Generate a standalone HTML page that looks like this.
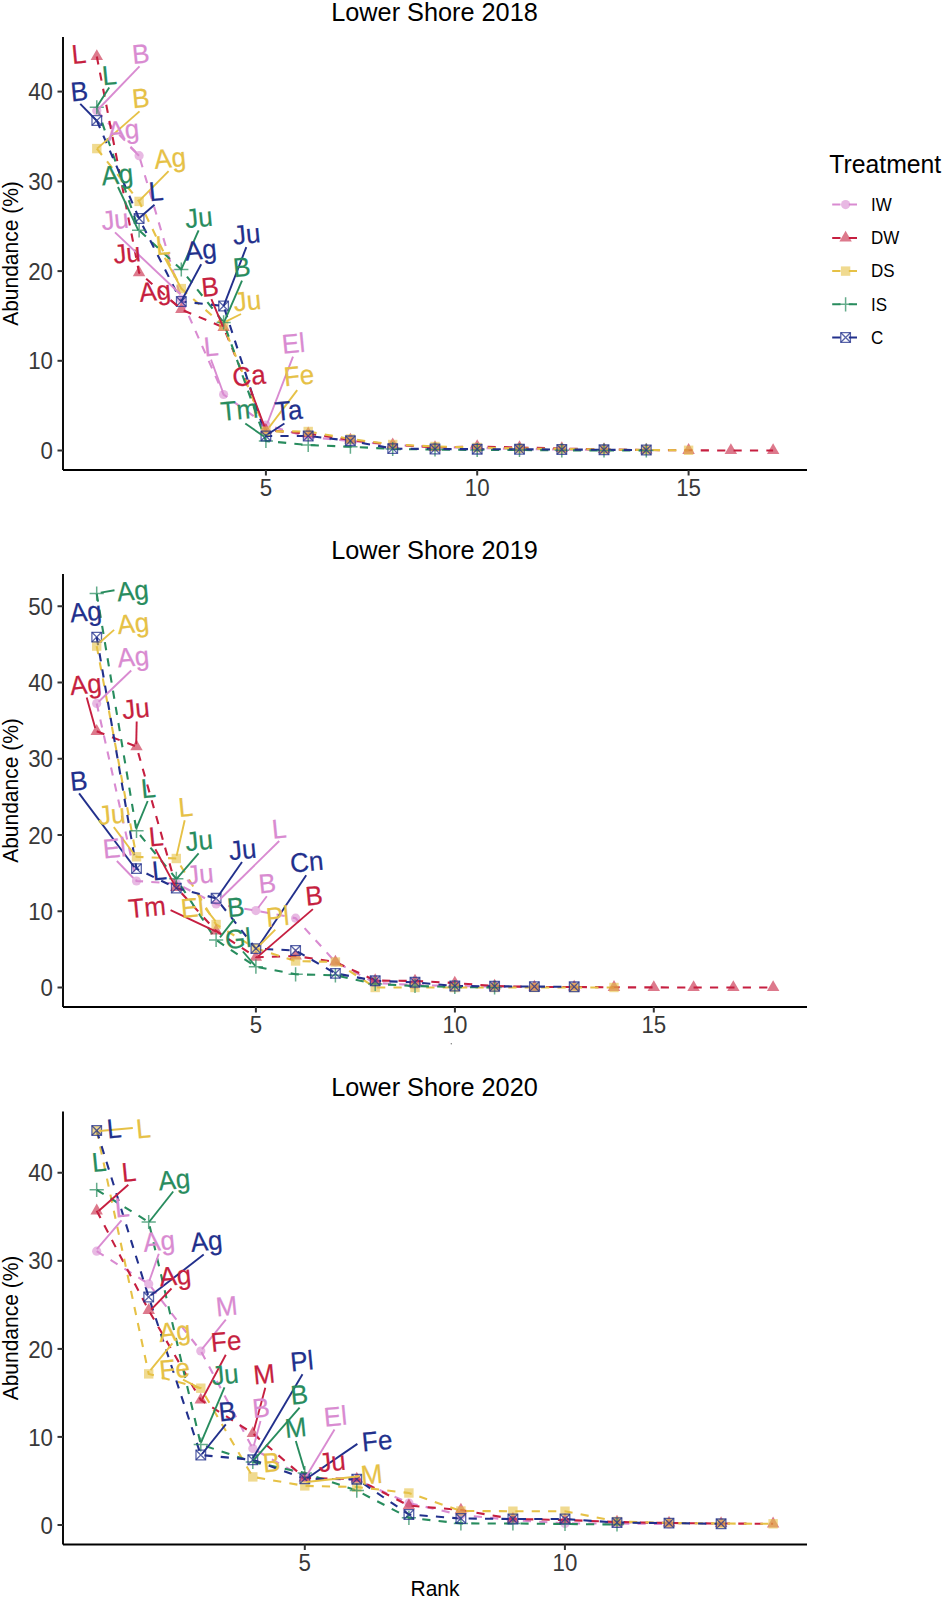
<!DOCTYPE html><html><head><meta charset="utf-8"><style>html,body{margin:0;padding:0;background:#fff;}svg{display:block;font-family:"Liberation Sans",sans-serif;}</style></head><body>
<svg width="944" height="1599" viewBox="0 0 944 1599">
<rect width="944" height="1599" fill="#fff"/>
<text transform="translate(434.50 21.00) scale(1 1.043)" font-size="25.3" fill="#000" text-anchor="middle">Lower Shore 2018</text>
<text transform="translate(17.6 253.5) rotate(-90) scale(1 1.043)" font-size="21" text-anchor="middle" fill="#000">Abundance (%)</text>
<polyline points="96.8,110.8 139.1,155.7 181.3,299.0 223.6,394.5 265.9,425.0 308.2,437.0 350.4,441.0 392.7,445.0 435.0,447.0 477.2,448.0 519.5,449.0 561.8,449.5 604.0,450.0" fill="none" stroke="#D98BD1" stroke-width="2.1" stroke-dasharray="8.2 8.2"/>
<polyline points="96.8,56.5 139.1,272.6 181.3,309.5 223.6,327.4 265.9,430.2 308.2,433.6 350.4,440.0 392.7,444.7 435.0,447.4 477.2,446.5 519.5,447.5 561.8,448.5 604.0,449.5 646.3,450.0 688.6,450.3 730.9,450.5 773.1,450.5" fill="none" stroke="#C61F40" stroke-width="2.1" stroke-dasharray="8.2 8.2"/>
<polyline points="96.8,148.6 139.1,201.4 181.3,288.6 223.6,325.8 265.9,431.3 308.2,431.5 350.4,439.0 392.7,444.5 435.0,446.5 477.2,447.5 519.5,448.5 561.8,449.0 604.0,449.5 646.3,450.0 688.6,450.3" fill="none" stroke="#E6C146" stroke-width="2.1" stroke-dasharray="8.2 8.2"/>
<polyline points="96.8,107.2 139.1,230.3 181.3,269.5 223.6,322.4 265.9,441.0 308.2,445.0 350.4,446.7 392.7,449.0 435.0,449.5 477.2,450.0 519.5,450.0 561.8,450.3 604.0,450.4 646.3,450.5" fill="none" stroke="#288C5E" stroke-width="2.1" stroke-dasharray="8.2 8.2"/>
<polyline points="96.8,120.5 139.1,218.5 181.3,301.5 223.6,306.0 265.9,436.0 308.2,436.0 350.4,440.8 392.7,448.6 435.0,449.0 477.2,449.2 519.5,449.3 561.8,449.5 604.0,449.8 646.3,450.0" fill="none" stroke="#22308C" stroke-width="2.1" stroke-dasharray="8.2 8.2"/>
<circle cx="96.8" cy="110.8" r="4.6" fill="#D98BD1" fill-opacity="0.6"/>
<circle cx="139.1" cy="155.7" r="4.6" fill="#D98BD1" fill-opacity="0.6"/>
<circle cx="181.3" cy="299.0" r="4.6" fill="#D98BD1" fill-opacity="0.6"/>
<circle cx="223.6" cy="394.5" r="4.6" fill="#D98BD1" fill-opacity="0.6"/>
<circle cx="265.9" cy="425.0" r="4.6" fill="#D98BD1" fill-opacity="0.6"/>
<circle cx="308.2" cy="437.0" r="4.6" fill="#D98BD1" fill-opacity="0.6"/>
<circle cx="350.4" cy="441.0" r="4.6" fill="#D98BD1" fill-opacity="0.6"/>
<circle cx="392.7" cy="445.0" r="4.6" fill="#D98BD1" fill-opacity="0.6"/>
<circle cx="435.0" cy="447.0" r="4.6" fill="#D98BD1" fill-opacity="0.6"/>
<circle cx="477.2" cy="448.0" r="4.6" fill="#D98BD1" fill-opacity="0.6"/>
<circle cx="519.5" cy="449.0" r="4.6" fill="#D98BD1" fill-opacity="0.6"/>
<circle cx="561.8" cy="449.5" r="4.6" fill="#D98BD1" fill-opacity="0.6"/>
<circle cx="604.0" cy="450.0" r="4.6" fill="#D98BD1" fill-opacity="0.6"/>
<path d="M96.8 49.3L103.0 60.1L90.6 60.1Z" fill="#C61F40" fill-opacity="0.6"/>
<path d="M139.1 265.4L145.3 276.2L132.8 276.2Z" fill="#C61F40" fill-opacity="0.6"/>
<path d="M181.3 302.3L187.6 313.1L175.1 313.1Z" fill="#C61F40" fill-opacity="0.6"/>
<path d="M223.6 320.2L229.8 331.0L217.4 331.0Z" fill="#C61F40" fill-opacity="0.6"/>
<path d="M265.9 423.0L272.1 433.8L259.6 433.8Z" fill="#C61F40" fill-opacity="0.6"/>
<path d="M308.2 426.4L314.4 437.2L301.9 437.2Z" fill="#C61F40" fill-opacity="0.6"/>
<path d="M350.4 432.8L356.7 443.6L344.2 443.6Z" fill="#C61F40" fill-opacity="0.6"/>
<path d="M392.7 437.5L398.9 448.3L386.5 448.3Z" fill="#C61F40" fill-opacity="0.6"/>
<path d="M435.0 440.2L441.2 451.0L428.7 451.0Z" fill="#C61F40" fill-opacity="0.6"/>
<path d="M477.2 439.3L483.5 450.1L471.0 450.1Z" fill="#C61F40" fill-opacity="0.6"/>
<path d="M519.5 440.3L525.7 451.1L513.3 451.1Z" fill="#C61F40" fill-opacity="0.6"/>
<path d="M561.8 441.3L568.0 452.1L555.5 452.1Z" fill="#C61F40" fill-opacity="0.6"/>
<path d="M604.0 442.3L610.3 453.1L597.8 453.1Z" fill="#C61F40" fill-opacity="0.6"/>
<path d="M646.3 442.8L652.5 453.6L640.1 453.6Z" fill="#C61F40" fill-opacity="0.6"/>
<path d="M688.6 443.1L694.8 453.9L682.3 453.9Z" fill="#C61F40" fill-opacity="0.6"/>
<path d="M730.9 443.3L737.1 454.1L724.6 454.1Z" fill="#C61F40" fill-opacity="0.6"/>
<path d="M773.1 443.3L779.4 454.1L766.9 454.1Z" fill="#C61F40" fill-opacity="0.6"/>
<rect x="92.1" y="143.9" width="9.4" height="9.4" fill="#E6C146" fill-opacity="0.6"/>
<rect x="134.4" y="196.7" width="9.4" height="9.4" fill="#E6C146" fill-opacity="0.6"/>
<rect x="176.6" y="283.9" width="9.4" height="9.4" fill="#E6C146" fill-opacity="0.6"/>
<rect x="218.9" y="321.1" width="9.4" height="9.4" fill="#E6C146" fill-opacity="0.6"/>
<rect x="261.2" y="426.6" width="9.4" height="9.4" fill="#E6C146" fill-opacity="0.6"/>
<rect x="303.5" y="426.8" width="9.4" height="9.4" fill="#E6C146" fill-opacity="0.6"/>
<rect x="345.7" y="434.3" width="9.4" height="9.4" fill="#E6C146" fill-opacity="0.6"/>
<rect x="388.0" y="439.8" width="9.4" height="9.4" fill="#E6C146" fill-opacity="0.6"/>
<rect x="430.3" y="441.8" width="9.4" height="9.4" fill="#E6C146" fill-opacity="0.6"/>
<rect x="472.5" y="442.8" width="9.4" height="9.4" fill="#E6C146" fill-opacity="0.6"/>
<rect x="514.8" y="443.8" width="9.4" height="9.4" fill="#E6C146" fill-opacity="0.6"/>
<rect x="557.1" y="444.3" width="9.4" height="9.4" fill="#E6C146" fill-opacity="0.6"/>
<rect x="599.3" y="444.8" width="9.4" height="9.4" fill="#E6C146" fill-opacity="0.6"/>
<rect x="641.6" y="445.3" width="9.4" height="9.4" fill="#E6C146" fill-opacity="0.6"/>
<rect x="683.9" y="445.6" width="9.4" height="9.4" fill="#E6C146" fill-opacity="0.6"/>
<path d="M89.7 107.2H103.9M96.8 100.2V114.3" stroke="#288C5E" stroke-opacity="0.72" stroke-width="1.5" fill="none"/>
<path d="M132.0 230.3H146.2M139.1 223.2V237.4" stroke="#288C5E" stroke-opacity="0.72" stroke-width="1.5" fill="none"/>
<path d="M174.2 269.5H188.4M181.3 262.4V276.6" stroke="#288C5E" stroke-opacity="0.72" stroke-width="1.5" fill="none"/>
<path d="M216.5 322.4H230.7M223.6 315.3V329.5" stroke="#288C5E" stroke-opacity="0.72" stroke-width="1.5" fill="none"/>
<path d="M258.8 441.0H273.0M265.9 433.9V448.1" stroke="#288C5E" stroke-opacity="0.72" stroke-width="1.5" fill="none"/>
<path d="M301.1 445.0H315.3M308.2 437.9V452.1" stroke="#288C5E" stroke-opacity="0.72" stroke-width="1.5" fill="none"/>
<path d="M343.3 446.7H357.5M350.4 439.6V453.8" stroke="#288C5E" stroke-opacity="0.72" stroke-width="1.5" fill="none"/>
<path d="M385.6 449.0H399.8M392.7 441.9V456.1" stroke="#288C5E" stroke-opacity="0.72" stroke-width="1.5" fill="none"/>
<path d="M427.9 449.5H442.1M435.0 442.4V456.6" stroke="#288C5E" stroke-opacity="0.72" stroke-width="1.5" fill="none"/>
<path d="M470.1 450.0H484.3M477.2 442.9V457.1" stroke="#288C5E" stroke-opacity="0.72" stroke-width="1.5" fill="none"/>
<path d="M512.4 450.0H526.6M519.5 442.9V457.1" stroke="#288C5E" stroke-opacity="0.72" stroke-width="1.5" fill="none"/>
<path d="M554.7 450.3H568.9M561.8 443.2V457.4" stroke="#288C5E" stroke-opacity="0.72" stroke-width="1.5" fill="none"/>
<path d="M596.9 450.4H611.1M604.0 443.3V457.5" stroke="#288C5E" stroke-opacity="0.72" stroke-width="1.5" fill="none"/>
<path d="M639.2 450.5H653.4M646.3 443.4V457.6" stroke="#288C5E" stroke-opacity="0.72" stroke-width="1.5" fill="none"/>
<g stroke="#22308C" stroke-opacity="0.75" stroke-width="1.3" fill="none"><path d="M92.0 115.7h9.6v9.6h-9.6Z"/><path d="M92.0 115.7L101.6 125.3M101.6 115.7L92.0 125.3"/></g>
<g stroke="#22308C" stroke-opacity="0.75" stroke-width="1.3" fill="none"><path d="M134.3 213.7h9.6v9.6h-9.6Z"/><path d="M134.3 213.7L143.9 223.3M143.9 213.7L134.3 223.3"/></g>
<g stroke="#22308C" stroke-opacity="0.75" stroke-width="1.3" fill="none"><path d="M176.5 296.7h9.6v9.6h-9.6Z"/><path d="M176.5 296.7L186.1 306.3M186.1 296.7L176.5 306.3"/></g>
<g stroke="#22308C" stroke-opacity="0.75" stroke-width="1.3" fill="none"><path d="M218.8 301.2h9.6v9.6h-9.6Z"/><path d="M218.8 301.2L228.4 310.8M228.4 301.2L218.8 310.8"/></g>
<g stroke="#22308C" stroke-opacity="0.75" stroke-width="1.3" fill="none"><path d="M261.1 431.2h9.6v9.6h-9.6Z"/><path d="M261.1 431.2L270.7 440.8M270.7 431.2L261.1 440.8"/></g>
<g stroke="#22308C" stroke-opacity="0.75" stroke-width="1.3" fill="none"><path d="M303.4 431.2h9.6v9.6h-9.6Z"/><path d="M303.4 431.2L313.0 440.8M313.0 431.2L303.4 440.8"/></g>
<g stroke="#22308C" stroke-opacity="0.75" stroke-width="1.3" fill="none"><path d="M345.6 436.0h9.6v9.6h-9.6Z"/><path d="M345.6 436.0L355.2 445.6M355.2 436.0L345.6 445.6"/></g>
<g stroke="#22308C" stroke-opacity="0.75" stroke-width="1.3" fill="none"><path d="M387.9 443.8h9.6v9.6h-9.6Z"/><path d="M387.9 443.8L397.5 453.4M397.5 443.8L387.9 453.4"/></g>
<g stroke="#22308C" stroke-opacity="0.75" stroke-width="1.3" fill="none"><path d="M430.2 444.2h9.6v9.6h-9.6Z"/><path d="M430.2 444.2L439.8 453.8M439.8 444.2L430.2 453.8"/></g>
<g stroke="#22308C" stroke-opacity="0.75" stroke-width="1.3" fill="none"><path d="M472.4 444.4h9.6v9.6h-9.6Z"/><path d="M472.4 444.4L482.0 454.0M482.0 444.4L472.4 454.0"/></g>
<g stroke="#22308C" stroke-opacity="0.75" stroke-width="1.3" fill="none"><path d="M514.7 444.5h9.6v9.6h-9.6Z"/><path d="M514.7 444.5L524.3 454.1M524.3 444.5L514.7 454.1"/></g>
<g stroke="#22308C" stroke-opacity="0.75" stroke-width="1.3" fill="none"><path d="M557.0 444.7h9.6v9.6h-9.6Z"/><path d="M557.0 444.7L566.6 454.3M566.6 444.7L557.0 454.3"/></g>
<g stroke="#22308C" stroke-opacity="0.75" stroke-width="1.3" fill="none"><path d="M599.2 445.0h9.6v9.6h-9.6Z"/><path d="M599.2 445.0L608.8 454.6M608.8 445.0L599.2 454.6"/></g>
<g stroke="#22308C" stroke-opacity="0.75" stroke-width="1.3" fill="none"><path d="M641.5 445.2h9.6v9.6h-9.6Z"/><path d="M641.5 445.2L651.1 454.8M651.1 445.2L641.5 454.8"/></g>
<line x1="109.25" y1="87.6" x2="96.75" y2="107" stroke="#288C5E" stroke-width="1.9"/>
<line x1="139.5" y1="66.4" x2="98.5" y2="109" stroke="#D98BD1" stroke-width="1.9"/>
<line x1="80.25" y1="103.9" x2="96.5" y2="120.5" stroke="#22308C" stroke-width="1.9"/>
<line x1="139.5" y1="111.4" x2="97.1" y2="148.6" stroke="#E6C146" stroke-width="1.9"/>
<line x1="130.4" y1="147.4" x2="139" y2="155.7" stroke="#D98BD1" stroke-width="1.9"/>
<line x1="168.6" y1="171.2" x2="138.7" y2="201.4" stroke="#E6C146" stroke-width="1.9"/>
<line x1="118" y1="187" x2="138.3" y2="230.3" stroke="#288C5E" stroke-width="1.9"/>
<line x1="154.5" y1="204.8" x2="138.7" y2="218.5" stroke="#22308C" stroke-width="1.9"/>
<line x1="115" y1="232.4" x2="180.5" y2="294.3" stroke="#D98BD1" stroke-width="1.9"/>
<line x1="170.5" y1="300" x2="177.6" y2="305.8" stroke="#C61F40" stroke-width="1.9"/>
<line x1="164.7" y1="257.8" x2="181.3" y2="288.5" stroke="#E6C146" stroke-width="1.9"/>
<line x1="198.6" y1="230.3" x2="181.3" y2="269.4" stroke="#288C5E" stroke-width="1.9"/>
<line x1="201.2" y1="264.2" x2="181.3" y2="301.2" stroke="#22308C" stroke-width="1.9"/>
<line x1="211.4" y1="299.1" x2="222.9" y2="326.7" stroke="#C61F40" stroke-width="1.9"/>
<line x1="246.3" y1="247.2" x2="223.6" y2="306.1" stroke="#22308C" stroke-width="1.9"/>
<line x1="242" y1="280.7" x2="224" y2="322.4" stroke="#288C5E" stroke-width="1.9"/>
<line x1="241" y1="314" x2="226.2" y2="321.4" stroke="#E6C146" stroke-width="1.9"/>
<line x1="211" y1="359.6" x2="222.5" y2="391" stroke="#D98BD1" stroke-width="1.9"/>
<line x1="250.1" y1="388.2" x2="264.4" y2="426.3" stroke="#C61F40" stroke-width="1.9"/>
<line x1="293" y1="356.7" x2="267.3" y2="423.5" stroke="#D98BD1" stroke-width="1.9"/>
<line x1="297.2" y1="390.1" x2="269.2" y2="427.3" stroke="#E6C146" stroke-width="1.9"/>
<line x1="284.4" y1="423.5" x2="268.2" y2="434" stroke="#22308C" stroke-width="1.9"/>
<line x1="245.3" y1="423.5" x2="264.4" y2="436.8" stroke="#288C5E" stroke-width="1.9"/>
<text transform="translate(79.55 53.89) rotate(-5.5) scale(1 1.04)" x="-7.86" y="8.94" font-size="26" fill="#C61F40" stroke="#C61F40" stroke-width="0.2">L</text>
<text transform="translate(109.90 75.19) rotate(-5.5) scale(1 1.04)" x="-7.86" y="8.94" font-size="26" fill="#288C5E" stroke="#288C5E" stroke-width="0.2">L</text>
<text transform="translate(141.08 53.78) rotate(-5.5) scale(1 1.04)" x="-9.05" y="8.94" font-size="26" fill="#D98BD1" stroke="#D98BD1" stroke-width="0.2">B</text>
<text transform="translate(79.48 91.28) rotate(-5.5) scale(1 1.04)" x="-9.05" y="8.94" font-size="26" fill="#22308C" stroke="#22308C" stroke-width="0.2">B</text>
<text transform="translate(141.08 98.18) rotate(-5.5) scale(1 1.04)" x="-9.05" y="8.94" font-size="26" fill="#E6C146" stroke="#E6C146" stroke-width="0.2">B</text>
<text transform="translate(122.48 130.00) rotate(-5.5) scale(1 1.04)" x="-15.09" y="8.94" font-size="26" fill="#D98BD1" stroke="#D98BD1" stroke-width="0.2">Ag</text>
<text transform="translate(169.08 158.20) rotate(-5.5) scale(1 1.04)" x="-15.09" y="8.94" font-size="26" fill="#E6C146" stroke="#E6C146" stroke-width="0.2">Ag</text>
<text transform="translate(116.38 174.80) rotate(-5.5) scale(1 1.04)" x="-15.09" y="8.94" font-size="26" fill="#288C5E" stroke="#288C5E" stroke-width="0.2">Ag</text>
<text transform="translate(156.60 191.29) rotate(-5.5) scale(1 1.04)" x="-7.86" y="8.94" font-size="26" fill="#22308C" stroke="#22308C" stroke-width="0.2">L</text>
<text transform="translate(114.26 219.75) rotate(-5.5) scale(1 1.04)" x="-13.07" y="8.94" font-size="26" fill="#D98BD1" stroke="#D98BD1" stroke-width="0.2">Ju</text>
<text transform="translate(126.26 253.35) rotate(-5.5) scale(1 1.04)" x="-13.07" y="8.94" font-size="26" fill="#C61F40" stroke="#C61F40" stroke-width="0.2">Ju</text>
<text transform="translate(154.18 291.20) rotate(-5.5) scale(1 1.04)" x="-15.09" y="8.94" font-size="26" fill="#C61F40" stroke="#C61F40" stroke-width="0.2">Ag</text>
<text transform="translate(163.60 245.29) rotate(-5.5) scale(1 1.04)" x="-7.86" y="8.94" font-size="26" fill="#E6C146" stroke="#E6C146" stroke-width="0.2">L</text>
<text transform="translate(198.06 217.75) rotate(-5.5) scale(1 1.04)" x="-13.07" y="8.94" font-size="26" fill="#288C5E" stroke="#288C5E" stroke-width="0.2">Ju</text>
<text transform="translate(199.78 250.00) rotate(-5.5) scale(1 1.04)" x="-15.09" y="8.94" font-size="26" fill="#22308C" stroke="#22308C" stroke-width="0.2">Ag</text>
<text transform="translate(210.38 286.78) rotate(-5.5) scale(1 1.04)" x="-9.05" y="8.94" font-size="26" fill="#C61F40" stroke="#C61F40" stroke-width="0.2">B</text>
<text transform="translate(245.86 234.35) rotate(-5.5) scale(1 1.04)" x="-13.07" y="8.94" font-size="26" fill="#22308C" stroke="#22308C" stroke-width="0.2">Ju</text>
<text transform="translate(242.18 267.18) rotate(-5.5) scale(1 1.04)" x="-9.05" y="8.94" font-size="26" fill="#288C5E" stroke="#288C5E" stroke-width="0.2">B</text>
<text transform="translate(246.66 300.95) rotate(-5.5) scale(1 1.04)" x="-13.07" y="8.94" font-size="26" fill="#E6C146" stroke="#E6C146" stroke-width="0.2">Ju</text>
<text transform="translate(211.60 346.49) rotate(-5.5) scale(1 1.04)" x="-7.86" y="8.94" font-size="26" fill="#D98BD1" stroke="#D98BD1" stroke-width="0.2">L</text>
<text transform="translate(249.56 375.73) rotate(-5.5) scale(1 1.04)" x="-17.28" y="8.94" font-size="26" fill="#C61F40" stroke="#C61F40" stroke-width="0.2">Ca</text>
<text transform="translate(293.67 343.42) rotate(-5.5) scale(1 1.04)" x="-11.76" y="8.94" font-size="26" fill="#D98BD1" stroke="#D98BD1" stroke-width="0.2">El</text>
<text transform="translate(299.46 375.44) rotate(-5.5) scale(1 1.04)" x="-15.66" y="8.94" font-size="26" fill="#E6C146" stroke="#E6C146" stroke-width="0.2">Fe</text>
<text transform="translate(290.30 410.30) rotate(-5.5) scale(1 1.04)" x="-15.46" y="8.94" font-size="26" fill="#22308C" stroke="#22308C" stroke-width="0.2">Ta</text>
<text transform="translate(238.73 410.04) rotate(-5.5) scale(1 1.04)" x="-18.21" y="8.94" font-size="26" fill="#288C5E" stroke="#288C5E" stroke-width="0.2">Tm</text>
<line x1="63" y1="37" x2="63" y2="470" stroke="#000" stroke-width="1.9"/>
<line x1="63" y1="470" x2="807" y2="470" stroke="#000" stroke-width="1.9"/>
<line x1="57.5" y1="450.5" x2="63" y2="450.5" stroke="#333" stroke-width="2"/>
<text transform="translate(53.00 459.10) scale(1 1.09)" font-size="22.3" fill="#383838" text-anchor="end">0</text>
<line x1="57.5" y1="360.8" x2="63" y2="360.8" stroke="#333" stroke-width="2"/>
<text transform="translate(53.00 369.40) scale(1 1.09)" font-size="22.3" fill="#383838" text-anchor="end">10</text>
<line x1="57.5" y1="271.1" x2="63" y2="271.1" stroke="#333" stroke-width="2"/>
<text transform="translate(53.00 279.70) scale(1 1.09)" font-size="22.3" fill="#383838" text-anchor="end">20</text>
<line x1="57.5" y1="181.4" x2="63" y2="181.4" stroke="#333" stroke-width="2"/>
<text transform="translate(53.00 190.00) scale(1 1.09)" font-size="22.3" fill="#383838" text-anchor="end">30</text>
<line x1="57.5" y1="91.6" x2="63" y2="91.6" stroke="#333" stroke-width="2"/>
<text transform="translate(53.00 100.20) scale(1 1.09)" font-size="22.3" fill="#383838" text-anchor="end">40</text>
<line x1="265.9" y1="470" x2="265.9" y2="475.5" stroke="#333" stroke-width="2"/>
<text transform="translate(265.90 496.30) scale(1 1.09)" font-size="22.3" fill="#383838" text-anchor="middle">5</text>
<line x1="477.2" y1="470" x2="477.2" y2="475.5" stroke="#333" stroke-width="2"/>
<text transform="translate(477.20 496.30) scale(1 1.09)" font-size="22.3" fill="#383838" text-anchor="middle">10</text>
<line x1="688.6" y1="470" x2="688.6" y2="475.5" stroke="#333" stroke-width="2"/>
<text transform="translate(688.60 496.30) scale(1 1.09)" font-size="22.3" fill="#383838" text-anchor="middle">15</text>
<text transform="translate(434.50 558.50) scale(1 1.043)" font-size="25.3" fill="#000" text-anchor="middle">Lower Shore 2019</text>
<text transform="translate(17.6 790.5) rotate(-90) scale(1 1.043)" font-size="21" text-anchor="middle" fill="#000">Abundance (%)</text>
<polyline points="96.7,703.4 136.5,881.0 176.3,883.5 216.1,904.0 255.9,910.6 295.6,918.2 335.4,962.0 375.2,983.0 415.0,985.0 454.8,986.0 494.6,986.5 534.4,987.0" fill="none" stroke="#D98BD1" stroke-width="2.1" stroke-dasharray="8.2 8.2"/>
<polyline points="96.7,731.3 136.5,746.6 176.3,887.3 216.1,931.0 255.9,957.2 295.6,956.0 335.4,962.0 375.2,980.5 415.0,981.0 454.8,983.0 494.6,986.0 534.4,987.0 574.2,987.0 614.0,987.3 653.8,987.4 693.6,987.5 733.3,987.5 773.1,987.5" fill="none" stroke="#C61F40" stroke-width="2.1" stroke-dasharray="8.2 8.2"/>
<polyline points="96.7,646.1 136.5,856.8 176.3,858.5 216.1,924.5 255.9,948.5 295.6,961.0 335.4,962.0 375.2,987.5 415.0,987.5 454.8,987.5 494.6,987.5 534.4,987.5 574.2,987.5 614.0,987.5" fill="none" stroke="#E6C146" stroke-width="2.1" stroke-dasharray="8.2 8.2"/>
<polyline points="96.7,593.6 136.5,830.8 176.3,878.8 216.1,940.0 255.9,966.7 295.6,974.3 335.4,975.3 375.2,984.0 415.0,986.0 454.8,987.0 494.6,987.5" fill="none" stroke="#288C5E" stroke-width="2.1" stroke-dasharray="8.2 8.2"/>
<polyline points="96.7,637.1 136.5,868.6 176.3,888.1 216.1,898.3 255.9,948.6 295.6,950.5 335.4,973.4 375.2,980.8 415.0,982.3 454.8,986.0 494.6,986.3 534.4,986.6 574.2,986.8" fill="none" stroke="#22308C" stroke-width="2.1" stroke-dasharray="8.2 8.2"/>
<circle cx="96.7" cy="703.4" r="4.6" fill="#D98BD1" fill-opacity="0.6"/>
<circle cx="136.5" cy="881.0" r="4.6" fill="#D98BD1" fill-opacity="0.6"/>
<circle cx="176.3" cy="883.5" r="4.6" fill="#D98BD1" fill-opacity="0.6"/>
<circle cx="216.1" cy="904.0" r="4.6" fill="#D98BD1" fill-opacity="0.6"/>
<circle cx="255.9" cy="910.6" r="4.6" fill="#D98BD1" fill-opacity="0.6"/>
<circle cx="295.6" cy="918.2" r="4.6" fill="#D98BD1" fill-opacity="0.6"/>
<circle cx="335.4" cy="962.0" r="4.6" fill="#D98BD1" fill-opacity="0.6"/>
<circle cx="375.2" cy="983.0" r="4.6" fill="#D98BD1" fill-opacity="0.6"/>
<circle cx="415.0" cy="985.0" r="4.6" fill="#D98BD1" fill-opacity="0.6"/>
<circle cx="454.8" cy="986.0" r="4.6" fill="#D98BD1" fill-opacity="0.6"/>
<circle cx="494.6" cy="986.5" r="4.6" fill="#D98BD1" fill-opacity="0.6"/>
<circle cx="534.4" cy="987.0" r="4.6" fill="#D98BD1" fill-opacity="0.6"/>
<path d="M96.7 724.1L102.9 734.9L90.5 734.9Z" fill="#C61F40" fill-opacity="0.6"/>
<path d="M136.5 739.4L142.7 750.2L130.3 750.2Z" fill="#C61F40" fill-opacity="0.6"/>
<path d="M176.3 880.1L182.5 890.9L170.0 890.9Z" fill="#C61F40" fill-opacity="0.6"/>
<path d="M216.1 923.8L222.3 934.6L209.8 934.6Z" fill="#C61F40" fill-opacity="0.6"/>
<path d="M255.9 950.0L262.1 960.8L249.6 960.8Z" fill="#C61F40" fill-opacity="0.6"/>
<path d="M295.6 948.8L301.9 959.6L289.4 959.6Z" fill="#C61F40" fill-opacity="0.6"/>
<path d="M335.4 954.8L341.7 965.6L329.2 965.6Z" fill="#C61F40" fill-opacity="0.6"/>
<path d="M375.2 973.3L381.5 984.1L369.0 984.1Z" fill="#C61F40" fill-opacity="0.6"/>
<path d="M415.0 973.8L421.3 984.6L408.8 984.6Z" fill="#C61F40" fill-opacity="0.6"/>
<path d="M454.8 975.8L461.0 986.6L448.6 986.6Z" fill="#C61F40" fill-opacity="0.6"/>
<path d="M494.6 978.8L500.8 989.6L488.4 989.6Z" fill="#C61F40" fill-opacity="0.6"/>
<path d="M534.4 979.8L540.6 990.6L528.2 990.6Z" fill="#C61F40" fill-opacity="0.6"/>
<path d="M574.2 979.8L580.4 990.6L567.9 990.6Z" fill="#C61F40" fill-opacity="0.6"/>
<path d="M614.0 980.1L620.2 990.9L607.7 990.9Z" fill="#C61F40" fill-opacity="0.6"/>
<path d="M653.8 980.2L660.0 991.0L647.5 991.0Z" fill="#C61F40" fill-opacity="0.6"/>
<path d="M693.6 980.3L699.8 991.1L687.3 991.1Z" fill="#C61F40" fill-opacity="0.6"/>
<path d="M733.3 980.3L739.6 991.1L727.1 991.1Z" fill="#C61F40" fill-opacity="0.6"/>
<path d="M773.1 980.3L779.4 991.1L766.9 991.1Z" fill="#C61F40" fill-opacity="0.6"/>
<rect x="92.0" y="641.4" width="9.4" height="9.4" fill="#E6C146" fill-opacity="0.6"/>
<rect x="131.8" y="852.1" width="9.4" height="9.4" fill="#E6C146" fill-opacity="0.6"/>
<rect x="171.6" y="853.8" width="9.4" height="9.4" fill="#E6C146" fill-opacity="0.6"/>
<rect x="211.4" y="919.8" width="9.4" height="9.4" fill="#E6C146" fill-opacity="0.6"/>
<rect x="251.2" y="943.8" width="9.4" height="9.4" fill="#E6C146" fill-opacity="0.6"/>
<rect x="290.9" y="956.3" width="9.4" height="9.4" fill="#E6C146" fill-opacity="0.6"/>
<rect x="330.7" y="957.3" width="9.4" height="9.4" fill="#E6C146" fill-opacity="0.6"/>
<rect x="370.5" y="982.8" width="9.4" height="9.4" fill="#E6C146" fill-opacity="0.6"/>
<rect x="410.3" y="982.8" width="9.4" height="9.4" fill="#E6C146" fill-opacity="0.6"/>
<rect x="450.1" y="982.8" width="9.4" height="9.4" fill="#E6C146" fill-opacity="0.6"/>
<rect x="489.9" y="982.8" width="9.4" height="9.4" fill="#E6C146" fill-opacity="0.6"/>
<rect x="529.7" y="982.8" width="9.4" height="9.4" fill="#E6C146" fill-opacity="0.6"/>
<rect x="569.5" y="982.8" width="9.4" height="9.4" fill="#E6C146" fill-opacity="0.6"/>
<rect x="609.3" y="982.8" width="9.4" height="9.4" fill="#E6C146" fill-opacity="0.6"/>
<path d="M89.6 593.6H103.8M96.7 586.5V600.7" stroke="#288C5E" stroke-opacity="0.72" stroke-width="1.5" fill="none"/>
<path d="M129.4 830.8H143.6M136.5 823.7V837.9" stroke="#288C5E" stroke-opacity="0.72" stroke-width="1.5" fill="none"/>
<path d="M169.2 878.8H183.4M176.3 871.7V885.9" stroke="#288C5E" stroke-opacity="0.72" stroke-width="1.5" fill="none"/>
<path d="M209.0 940.0H223.2M216.1 932.9V947.1" stroke="#288C5E" stroke-opacity="0.72" stroke-width="1.5" fill="none"/>
<path d="M248.8 966.7H263.0M255.9 959.6V973.8" stroke="#288C5E" stroke-opacity="0.72" stroke-width="1.5" fill="none"/>
<path d="M288.5 974.3H302.8M295.6 967.2V981.4" stroke="#288C5E" stroke-opacity="0.72" stroke-width="1.5" fill="none"/>
<path d="M328.3 975.3H342.5M335.4 968.2V982.4" stroke="#288C5E" stroke-opacity="0.72" stroke-width="1.5" fill="none"/>
<path d="M368.1 984.0H382.3M375.2 976.9V991.1" stroke="#288C5E" stroke-opacity="0.72" stroke-width="1.5" fill="none"/>
<path d="M407.9 986.0H422.1M415.0 978.9V993.1" stroke="#288C5E" stroke-opacity="0.72" stroke-width="1.5" fill="none"/>
<path d="M447.7 987.0H461.9M454.8 979.9V994.1" stroke="#288C5E" stroke-opacity="0.72" stroke-width="1.5" fill="none"/>
<path d="M487.5 987.5H501.7M494.6 980.4V994.6" stroke="#288C5E" stroke-opacity="0.72" stroke-width="1.5" fill="none"/>
<g stroke="#22308C" stroke-opacity="0.75" stroke-width="1.3" fill="none"><path d="M91.9 632.3h9.6v9.6h-9.6Z"/><path d="M91.9 632.3L101.5 641.9M101.5 632.3L91.9 641.9"/></g>
<g stroke="#22308C" stroke-opacity="0.75" stroke-width="1.3" fill="none"><path d="M131.7 863.8h9.6v9.6h-9.6Z"/><path d="M131.7 863.8L141.3 873.4M141.3 863.8L131.7 873.4"/></g>
<g stroke="#22308C" stroke-opacity="0.75" stroke-width="1.3" fill="none"><path d="M171.5 883.3h9.6v9.6h-9.6Z"/><path d="M171.5 883.3L181.1 892.9M181.1 883.3L171.5 892.9"/></g>
<g stroke="#22308C" stroke-opacity="0.75" stroke-width="1.3" fill="none"><path d="M211.3 893.5h9.6v9.6h-9.6Z"/><path d="M211.3 893.5L220.9 903.1M220.9 893.5L211.3 903.1"/></g>
<g stroke="#22308C" stroke-opacity="0.75" stroke-width="1.3" fill="none"><path d="M251.1 943.8h9.6v9.6h-9.6Z"/><path d="M251.1 943.8L260.7 953.4M260.7 943.8L251.1 953.4"/></g>
<g stroke="#22308C" stroke-opacity="0.75" stroke-width="1.3" fill="none"><path d="M290.8 945.7h9.6v9.6h-9.6Z"/><path d="M290.8 945.7L300.4 955.3M300.4 945.7L290.8 955.3"/></g>
<g stroke="#22308C" stroke-opacity="0.75" stroke-width="1.3" fill="none"><path d="M330.6 968.6h9.6v9.6h-9.6Z"/><path d="M330.6 968.6L340.2 978.2M340.2 968.6L330.6 978.2"/></g>
<g stroke="#22308C" stroke-opacity="0.75" stroke-width="1.3" fill="none"><path d="M370.4 976.0h9.6v9.6h-9.6Z"/><path d="M370.4 976.0L380.0 985.6M380.0 976.0L370.4 985.6"/></g>
<g stroke="#22308C" stroke-opacity="0.75" stroke-width="1.3" fill="none"><path d="M410.2 977.5h9.6v9.6h-9.6Z"/><path d="M410.2 977.5L419.8 987.1M419.8 977.5L410.2 987.1"/></g>
<g stroke="#22308C" stroke-opacity="0.75" stroke-width="1.3" fill="none"><path d="M450.0 981.2h9.6v9.6h-9.6Z"/><path d="M450.0 981.2L459.6 990.8M459.6 981.2L450.0 990.8"/></g>
<g stroke="#22308C" stroke-opacity="0.75" stroke-width="1.3" fill="none"><path d="M489.8 981.5h9.6v9.6h-9.6Z"/><path d="M489.8 981.5L499.4 991.1M499.4 981.5L489.8 991.1"/></g>
<g stroke="#22308C" stroke-opacity="0.75" stroke-width="1.3" fill="none"><path d="M529.6 981.8h9.6v9.6h-9.6Z"/><path d="M529.6 981.8L539.2 991.4M539.2 981.8L529.6 991.4"/></g>
<g stroke="#22308C" stroke-opacity="0.75" stroke-width="1.3" fill="none"><path d="M569.4 982.0h9.6v9.6h-9.6Z"/><path d="M569.4 982.0L579.0 991.6M579.0 982.0L569.4 991.6"/></g>
<line x1="114.5" y1="590.3" x2="100.7" y2="592.6" stroke="#288C5E" stroke-width="1.9"/>
<line x1="114.1" y1="629.9" x2="100" y2="642.2" stroke="#E6C146" stroke-width="1.9"/>
<line x1="131.2" y1="670.5" x2="98.6" y2="701.7" stroke="#D98BD1" stroke-width="1.9"/>
<line x1="86.7" y1="697.6" x2="95.2" y2="728.1" stroke="#C61F40" stroke-width="1.9"/>
<line x1="136.7" y1="721.4" x2="136.2" y2="744.2" stroke="#C61F40" stroke-width="1.9"/>
<line x1="79.1" y1="793.4" x2="134.2" y2="867" stroke="#22308C" stroke-width="1.9"/>
<line x1="147.7" y1="801" x2="136.2" y2="828.8" stroke="#288C5E" stroke-width="1.9"/>
<line x1="184.7" y1="820.3" x2="176.6" y2="855.9" stroke="#E6C146" stroke-width="1.9"/>
<line x1="113.8" y1="827.1" x2="134.2" y2="854.2" stroke="#E6C146" stroke-width="1.9"/>
<line x1="116.9" y1="861" x2="133.3" y2="878" stroke="#D98BD1" stroke-width="1.9"/>
<line x1="155.4" y1="849.2" x2="174.9" y2="885.6" stroke="#C61F40" stroke-width="1.9"/>
<line x1="198.6" y1="853.4" x2="176.6" y2="878.8" stroke="#288C5E" stroke-width="1.9"/>
<line x1="170.6" y1="910.2" x2="216.2" y2="931.6" stroke="#C61F40" stroke-width="1.9"/>
<line x1="205.4" y1="908.5" x2="215.5" y2="921.2" stroke="#E6C146" stroke-width="1.9"/>
<line x1="242" y1="862" x2="218.1" y2="896.3" stroke="#22308C" stroke-width="1.9"/>
<line x1="279.2" y1="841" x2="220" y2="899.2" stroke="#D98BD1" stroke-width="1.9"/>
<line x1="266.8" y1="896.3" x2="258.2" y2="907.7" stroke="#D98BD1" stroke-width="1.9"/>
<line x1="306.2" y1="875.3" x2="258.2" y2="946.8" stroke="#22308C" stroke-width="1.9"/>
<line x1="312.9" y1="909.1" x2="258.2" y2="956.4" stroke="#C61F40" stroke-width="1.9"/>
<line x1="275.3" y1="929.7" x2="260.1" y2="944.9" stroke="#E6C146" stroke-width="1.9"/>
<line x1="234.3" y1="919.2" x2="220" y2="937.3" stroke="#288C5E" stroke-width="1.9"/>
<line x1="242.9" y1="951.5" x2="255.3" y2="965.8" stroke="#288C5E" stroke-width="1.9"/>
<text transform="translate(131.98 590.90) rotate(-5.5) scale(1 1.04)" x="-15.09" y="8.94" font-size="26" fill="#288C5E" stroke="#288C5E" stroke-width="0.2">Ag</text>
<text transform="translate(84.78 611.90) rotate(-5.5) scale(1 1.04)" x="-15.09" y="8.94" font-size="26" fill="#22308C" stroke="#22308C" stroke-width="0.2">Ag</text>
<text transform="translate(132.38 623.50) rotate(-5.5) scale(1 1.04)" x="-15.09" y="8.94" font-size="26" fill="#E6C146" stroke="#E6C146" stroke-width="0.2">Ag</text>
<text transform="translate(132.38 656.90) rotate(-5.5) scale(1 1.04)" x="-15.09" y="8.94" font-size="26" fill="#D98BD1" stroke="#D98BD1" stroke-width="0.2">Ag</text>
<text transform="translate(84.78 684.50) rotate(-5.5) scale(1 1.04)" x="-15.09" y="8.94" font-size="26" fill="#C61F40" stroke="#C61F40" stroke-width="0.2">Ag</text>
<text transform="translate(135.06 708.85) rotate(-5.5) scale(1 1.04)" x="-13.07" y="8.94" font-size="26" fill="#C61F40" stroke="#C61F40" stroke-width="0.2">Ju</text>
<text transform="translate(78.98 780.78) rotate(-5.5) scale(1 1.04)" x="-9.05" y="8.94" font-size="26" fill="#22308C" stroke="#22308C" stroke-width="0.2">B</text>
<text transform="translate(149.00 788.29) rotate(-5.5) scale(1 1.04)" x="-7.86" y="8.94" font-size="26" fill="#288C5E" stroke="#288C5E" stroke-width="0.2">L</text>
<text transform="translate(186.30 806.99) rotate(-5.5) scale(1 1.04)" x="-7.86" y="8.94" font-size="26" fill="#E6C146" stroke="#E6C146" stroke-width="0.2">L</text>
<text transform="translate(110.86 814.55) rotate(-5.5) scale(1 1.04)" x="-13.07" y="8.94" font-size="26" fill="#E6C146" stroke="#E6C146" stroke-width="0.2">Ju</text>
<text transform="translate(114.67 848.12) rotate(-5.5) scale(1 1.04)" x="-11.76" y="8.94" font-size="26" fill="#D98BD1" stroke="#D98BD1" stroke-width="0.2">El</text>
<text transform="translate(156.60 836.49) rotate(-5.5) scale(1 1.04)" x="-7.86" y="8.94" font-size="26" fill="#C61F40" stroke="#C61F40" stroke-width="0.2">L</text>
<text transform="translate(160.00 870.39) rotate(-5.5) scale(1 1.04)" x="-7.86" y="8.94" font-size="26" fill="#22308C" stroke="#22308C" stroke-width="0.2">L</text>
<text transform="translate(198.46 840.65) rotate(-5.5) scale(1 1.04)" x="-13.07" y="8.94" font-size="26" fill="#288C5E" stroke="#288C5E" stroke-width="0.2">Ju</text>
<text transform="translate(199.16 874.35) rotate(-5.5) scale(1 1.04)" x="-13.07" y="8.94" font-size="26" fill="#D98BD1" stroke="#D98BD1" stroke-width="0.2">Ju</text>
<text transform="translate(146.43 907.34) rotate(-5.5) scale(1 1.04)" x="-18.21" y="8.94" font-size="26" fill="#C61F40" stroke="#C61F40" stroke-width="0.2">Tm</text>
<text transform="translate(192.67 907.52) rotate(-5.5) scale(1 1.04)" x="-11.76" y="8.94" font-size="26" fill="#E6C146" stroke="#E6C146" stroke-width="0.2">El</text>
<text transform="translate(241.86 849.75) rotate(-5.5) scale(1 1.04)" x="-13.07" y="8.94" font-size="26" fill="#22308C" stroke="#22308C" stroke-width="0.2">Ju</text>
<text transform="translate(279.70 828.79) rotate(-5.5) scale(1 1.04)" x="-7.86" y="8.94" font-size="26" fill="#D98BD1" stroke="#D98BD1" stroke-width="0.2">L</text>
<text transform="translate(267.58 883.28) rotate(-5.5) scale(1 1.04)" x="-9.05" y="8.94" font-size="26" fill="#D98BD1" stroke="#D98BD1" stroke-width="0.2">B</text>
<text transform="translate(306.42 862.01) rotate(-5.5) scale(1 1.04)" x="-16.43" y="8.94" font-size="26" fill="#22308C" stroke="#22308C" stroke-width="0.2">Cn</text>
<text transform="translate(314.28 895.68) rotate(-5.5) scale(1 1.04)" x="-9.05" y="8.94" font-size="26" fill="#C61F40" stroke="#C61F40" stroke-width="0.2">B</text>
<text transform="translate(277.87 916.52) rotate(-5.5) scale(1 1.04)" x="-11.76" y="8.94" font-size="26" fill="#E6C146" stroke="#E6C146" stroke-width="0.2">Pl</text>
<text transform="translate(236.08 907.08) rotate(-5.5) scale(1 1.04)" x="-9.05" y="8.94" font-size="26" fill="#288C5E" stroke="#288C5E" stroke-width="0.2">B</text>
<text transform="translate(237.90 938.68) rotate(-5.5) scale(1 1.04)" x="-12.78" y="8.94" font-size="26" fill="#288C5E" stroke="#288C5E" stroke-width="0.2">Gl</text>
<line x1="63" y1="574" x2="63" y2="1007" stroke="#000" stroke-width="1.9"/>
<line x1="63" y1="1007" x2="807" y2="1007" stroke="#000" stroke-width="1.9"/>
<line x1="57.5" y1="987.5" x2="63" y2="987.5" stroke="#333" stroke-width="2"/>
<text transform="translate(53.00 996.10) scale(1 1.09)" font-size="22.3" fill="#383838" text-anchor="end">0</text>
<line x1="57.5" y1="911.25" x2="63" y2="911.25" stroke="#333" stroke-width="2"/>
<text transform="translate(53.00 919.85) scale(1 1.09)" font-size="22.3" fill="#383838" text-anchor="end">10</text>
<line x1="57.5" y1="835" x2="63" y2="835" stroke="#333" stroke-width="2"/>
<text transform="translate(53.00 843.60) scale(1 1.09)" font-size="22.3" fill="#383838" text-anchor="end">20</text>
<line x1="57.5" y1="758.75" x2="63" y2="758.75" stroke="#333" stroke-width="2"/>
<text transform="translate(53.00 767.35) scale(1 1.09)" font-size="22.3" fill="#383838" text-anchor="end">30</text>
<line x1="57.5" y1="682.5" x2="63" y2="682.5" stroke="#333" stroke-width="2"/>
<text transform="translate(53.00 691.10) scale(1 1.09)" font-size="22.3" fill="#383838" text-anchor="end">40</text>
<line x1="57.5" y1="606.25" x2="63" y2="606.25" stroke="#333" stroke-width="2"/>
<text transform="translate(53.00 614.85) scale(1 1.09)" font-size="22.3" fill="#383838" text-anchor="end">50</text>
<line x1="255.9" y1="1007" x2="255.9" y2="1012.5" stroke="#333" stroke-width="2"/>
<text transform="translate(255.90 1033.30) scale(1 1.09)" font-size="22.3" fill="#383838" text-anchor="middle">5</text>
<line x1="454.9" y1="1007" x2="454.9" y2="1012.5" stroke="#333" stroke-width="2"/>
<text transform="translate(454.90 1033.30) scale(1 1.09)" font-size="22.3" fill="#383838" text-anchor="middle">10</text>
<line x1="653.8" y1="1007" x2="653.8" y2="1012.5" stroke="#333" stroke-width="2"/>
<text transform="translate(653.80 1033.30) scale(1 1.09)" font-size="22.3" fill="#383838" text-anchor="middle">15</text>
<text transform="translate(434.50 1095.70) scale(1 1.043)" font-size="25.3" fill="#000" text-anchor="middle">Lower Shore 2020</text>
<text transform="translate(17.6 1328.0) rotate(-90) scale(1 1.043)" font-size="21" text-anchor="middle" fill="#000">Abundance (%)</text>
<polyline points="96.7,1251.2 148.7,1283.9 200.8,1351.0 252.8,1448.5 304.8,1478.0 356.8,1480.0 408.9,1503.0 460.9,1515.0 512.9,1520.0 565.0,1523.4 617.0,1523.5 669.0,1524.0" fill="none" stroke="#D98BD1" stroke-width="2.1" stroke-dasharray="8.2 8.2"/>
<polyline points="96.7,1210.8 148.7,1310.3 200.8,1400.0 252.8,1433.4 304.8,1478.0 356.8,1479.0 408.9,1505.6 460.9,1510.0 512.9,1519.0 565.0,1520.0 617.0,1522.0 669.0,1523.0 721.1,1523.5 773.1,1523.8" fill="none" stroke="#C61F40" stroke-width="2.1" stroke-dasharray="8.2 8.2"/>
<polyline points="96.7,1130.5 148.7,1373.9 200.8,1388.2 252.8,1476.9 304.8,1485.9 356.8,1487.0 408.9,1493.0 460.9,1511.0 512.9,1511.2 565.0,1511.2 617.0,1521.5 669.0,1523.0 721.1,1523.5 773.1,1523.8" fill="none" stroke="#E6C146" stroke-width="2.1" stroke-dasharray="8.2 8.2"/>
<polyline points="96.7,1189.8 148.7,1222.0 200.8,1444.5 252.8,1462.0 304.8,1473.0 356.8,1490.6 408.9,1517.8 460.9,1523.4 512.9,1523.5 565.0,1524.0 617.0,1524.5" fill="none" stroke="#288C5E" stroke-width="2.1" stroke-dasharray="8.2 8.2"/>
<polyline points="96.7,1130.5 148.7,1297.0 200.8,1455.0 252.8,1459.8 304.8,1478.8 356.8,1479.2 408.9,1514.5 460.9,1518.5 512.9,1519.0 565.0,1519.0 617.0,1522.6 669.0,1523.1 721.1,1523.8" fill="none" stroke="#22308C" stroke-width="2.1" stroke-dasharray="8.2 8.2"/>
<circle cx="96.7" cy="1251.2" r="4.6" fill="#D98BD1" fill-opacity="0.6"/>
<circle cx="148.7" cy="1283.9" r="4.6" fill="#D98BD1" fill-opacity="0.6"/>
<circle cx="200.8" cy="1351.0" r="4.6" fill="#D98BD1" fill-opacity="0.6"/>
<circle cx="252.8" cy="1448.5" r="4.6" fill="#D98BD1" fill-opacity="0.6"/>
<circle cx="304.8" cy="1478.0" r="4.6" fill="#D98BD1" fill-opacity="0.6"/>
<circle cx="356.8" cy="1480.0" r="4.6" fill="#D98BD1" fill-opacity="0.6"/>
<circle cx="408.9" cy="1503.0" r="4.6" fill="#D98BD1" fill-opacity="0.6"/>
<circle cx="460.9" cy="1515.0" r="4.6" fill="#D98BD1" fill-opacity="0.6"/>
<circle cx="512.9" cy="1520.0" r="4.6" fill="#D98BD1" fill-opacity="0.6"/>
<circle cx="565.0" cy="1523.4" r="4.6" fill="#D98BD1" fill-opacity="0.6"/>
<circle cx="617.0" cy="1523.5" r="4.6" fill="#D98BD1" fill-opacity="0.6"/>
<circle cx="669.0" cy="1524.0" r="4.6" fill="#D98BD1" fill-opacity="0.6"/>
<path d="M96.7 1203.6L102.9 1214.4L90.5 1214.4Z" fill="#C61F40" fill-opacity="0.6"/>
<path d="M148.7 1303.1L155.0 1313.9L142.5 1313.9Z" fill="#C61F40" fill-opacity="0.6"/>
<path d="M200.8 1392.8L207.0 1403.6L194.5 1403.6Z" fill="#C61F40" fill-opacity="0.6"/>
<path d="M252.8 1426.2L259.0 1437.0L246.6 1437.0Z" fill="#C61F40" fill-opacity="0.6"/>
<path d="M304.8 1470.8L311.1 1481.6L298.6 1481.6Z" fill="#C61F40" fill-opacity="0.6"/>
<path d="M356.8 1471.8L363.1 1482.6L350.6 1482.6Z" fill="#C61F40" fill-opacity="0.6"/>
<path d="M408.9 1498.4L415.1 1509.2L402.6 1509.2Z" fill="#C61F40" fill-opacity="0.6"/>
<path d="M460.9 1502.8L467.1 1513.6L454.7 1513.6Z" fill="#C61F40" fill-opacity="0.6"/>
<path d="M512.9 1511.8L519.2 1522.6L506.7 1522.6Z" fill="#C61F40" fill-opacity="0.6"/>
<path d="M565.0 1512.8L571.2 1523.6L558.7 1523.6Z" fill="#C61F40" fill-opacity="0.6"/>
<path d="M617.0 1514.8L623.2 1525.6L610.8 1525.6Z" fill="#C61F40" fill-opacity="0.6"/>
<path d="M669.0 1515.8L675.3 1526.6L662.8 1526.6Z" fill="#C61F40" fill-opacity="0.6"/>
<path d="M721.1 1516.3L727.3 1527.1L714.8 1527.1Z" fill="#C61F40" fill-opacity="0.6"/>
<path d="M773.1 1516.6L779.3 1527.4L766.9 1527.4Z" fill="#C61F40" fill-opacity="0.6"/>
<rect x="92.0" y="1125.8" width="9.4" height="9.4" fill="#E6C146" fill-opacity="0.6"/>
<rect x="144.0" y="1369.2" width="9.4" height="9.4" fill="#E6C146" fill-opacity="0.6"/>
<rect x="196.1" y="1383.5" width="9.4" height="9.4" fill="#E6C146" fill-opacity="0.6"/>
<rect x="248.1" y="1472.2" width="9.4" height="9.4" fill="#E6C146" fill-opacity="0.6"/>
<rect x="300.1" y="1481.2" width="9.4" height="9.4" fill="#E6C146" fill-opacity="0.6"/>
<rect x="352.1" y="1482.3" width="9.4" height="9.4" fill="#E6C146" fill-opacity="0.6"/>
<rect x="404.2" y="1488.3" width="9.4" height="9.4" fill="#E6C146" fill-opacity="0.6"/>
<rect x="456.2" y="1506.3" width="9.4" height="9.4" fill="#E6C146" fill-opacity="0.6"/>
<rect x="508.2" y="1506.5" width="9.4" height="9.4" fill="#E6C146" fill-opacity="0.6"/>
<rect x="560.3" y="1506.5" width="9.4" height="9.4" fill="#E6C146" fill-opacity="0.6"/>
<rect x="612.3" y="1516.8" width="9.4" height="9.4" fill="#E6C146" fill-opacity="0.6"/>
<rect x="664.3" y="1518.3" width="9.4" height="9.4" fill="#E6C146" fill-opacity="0.6"/>
<rect x="716.4" y="1518.8" width="9.4" height="9.4" fill="#E6C146" fill-opacity="0.6"/>
<rect x="768.4" y="1519.1" width="9.4" height="9.4" fill="#E6C146" fill-opacity="0.6"/>
<path d="M89.6 1189.8H103.8M96.7 1182.7V1196.9" stroke="#288C5E" stroke-opacity="0.72" stroke-width="1.5" fill="none"/>
<path d="M141.6 1222.0H155.8M148.7 1214.9V1229.1" stroke="#288C5E" stroke-opacity="0.72" stroke-width="1.5" fill="none"/>
<path d="M193.7 1444.5H207.9M200.8 1437.4V1451.6" stroke="#288C5E" stroke-opacity="0.72" stroke-width="1.5" fill="none"/>
<path d="M245.7 1462.0H259.9M252.8 1454.9V1469.1" stroke="#288C5E" stroke-opacity="0.72" stroke-width="1.5" fill="none"/>
<path d="M297.7 1473.0H311.9M304.8 1465.9V1480.1" stroke="#288C5E" stroke-opacity="0.72" stroke-width="1.5" fill="none"/>
<path d="M349.7 1490.6H363.9M356.8 1483.5V1497.7" stroke="#288C5E" stroke-opacity="0.72" stroke-width="1.5" fill="none"/>
<path d="M401.8 1517.8H416.0M408.9 1510.7V1524.9" stroke="#288C5E" stroke-opacity="0.72" stroke-width="1.5" fill="none"/>
<path d="M453.8 1523.4H468.0M460.9 1516.3V1530.5" stroke="#288C5E" stroke-opacity="0.72" stroke-width="1.5" fill="none"/>
<path d="M505.8 1523.5H520.0M512.9 1516.4V1530.6" stroke="#288C5E" stroke-opacity="0.72" stroke-width="1.5" fill="none"/>
<path d="M557.9 1524.0H572.1M565.0 1516.9V1531.1" stroke="#288C5E" stroke-opacity="0.72" stroke-width="1.5" fill="none"/>
<path d="M609.9 1524.5H624.1M617.0 1517.4V1531.6" stroke="#288C5E" stroke-opacity="0.72" stroke-width="1.5" fill="none"/>
<g stroke="#22308C" stroke-opacity="0.75" stroke-width="1.3" fill="none"><path d="M91.9 1125.7h9.6v9.6h-9.6Z"/><path d="M91.9 1125.7L101.5 1135.3M101.5 1125.7L91.9 1135.3"/></g>
<g stroke="#22308C" stroke-opacity="0.75" stroke-width="1.3" fill="none"><path d="M143.9 1292.2h9.6v9.6h-9.6Z"/><path d="M143.9 1292.2L153.5 1301.8M153.5 1292.2L143.9 1301.8"/></g>
<g stroke="#22308C" stroke-opacity="0.75" stroke-width="1.3" fill="none"><path d="M196.0 1450.2h9.6v9.6h-9.6Z"/><path d="M196.0 1450.2L205.6 1459.8M205.6 1450.2L196.0 1459.8"/></g>
<g stroke="#22308C" stroke-opacity="0.75" stroke-width="1.3" fill="none"><path d="M248.0 1455.0h9.6v9.6h-9.6Z"/><path d="M248.0 1455.0L257.6 1464.6M257.6 1455.0L248.0 1464.6"/></g>
<g stroke="#22308C" stroke-opacity="0.75" stroke-width="1.3" fill="none"><path d="M300.0 1474.0h9.6v9.6h-9.6Z"/><path d="M300.0 1474.0L309.6 1483.6M309.6 1474.0L300.0 1483.6"/></g>
<g stroke="#22308C" stroke-opacity="0.75" stroke-width="1.3" fill="none"><path d="M352.0 1474.4h9.6v9.6h-9.6Z"/><path d="M352.0 1474.4L361.6 1484.0M361.6 1474.4L352.0 1484.0"/></g>
<g stroke="#22308C" stroke-opacity="0.75" stroke-width="1.3" fill="none"><path d="M404.1 1509.7h9.6v9.6h-9.6Z"/><path d="M404.1 1509.7L413.7 1519.3M413.7 1509.7L404.1 1519.3"/></g>
<g stroke="#22308C" stroke-opacity="0.75" stroke-width="1.3" fill="none"><path d="M456.1 1513.7h9.6v9.6h-9.6Z"/><path d="M456.1 1513.7L465.7 1523.3M465.7 1513.7L456.1 1523.3"/></g>
<g stroke="#22308C" stroke-opacity="0.75" stroke-width="1.3" fill="none"><path d="M508.1 1514.2h9.6v9.6h-9.6Z"/><path d="M508.1 1514.2L517.7 1523.8M517.7 1514.2L508.1 1523.8"/></g>
<g stroke="#22308C" stroke-opacity="0.75" stroke-width="1.3" fill="none"><path d="M560.2 1514.2h9.6v9.6h-9.6Z"/><path d="M560.2 1514.2L569.8 1523.8M569.8 1514.2L560.2 1523.8"/></g>
<g stroke="#22308C" stroke-opacity="0.75" stroke-width="1.3" fill="none"><path d="M612.2 1517.8h9.6v9.6h-9.6Z"/><path d="M612.2 1517.8L621.8 1527.4M621.8 1517.8L612.2 1527.4"/></g>
<g stroke="#22308C" stroke-opacity="0.75" stroke-width="1.3" fill="none"><path d="M664.2 1518.3h9.6v9.6h-9.6Z"/><path d="M664.2 1518.3L673.8 1527.9M673.8 1518.3L664.2 1527.9"/></g>
<g stroke="#22308C" stroke-opacity="0.75" stroke-width="1.3" fill="none"><path d="M716.3 1519.0h9.6v9.6h-9.6Z"/><path d="M716.3 1519.0L725.9 1528.6M725.9 1519.0L716.3 1528.6"/></g>
<line x1="132.8" y1="1128" x2="99.4" y2="1131" stroke="#E6C146" stroke-width="1.9"/>
<line x1="128.3" y1="1184.7" x2="98.6" y2="1211" stroke="#C61F40" stroke-width="1.9"/>
<line x1="121.5" y1="1220.3" x2="96.9" y2="1249.1" stroke="#D98BD1" stroke-width="1.9"/>
<line x1="173.2" y1="1191.5" x2="149.1" y2="1222" stroke="#288C5E" stroke-width="1.9"/>
<line x1="158.8" y1="1253.7" x2="149.4" y2="1280.8" stroke="#D98BD1" stroke-width="1.9"/>
<line x1="203.7" y1="1254.6" x2="151.1" y2="1295.3" stroke="#22308C" stroke-width="1.9"/>
<line x1="171.5" y1="1288.5" x2="151.1" y2="1309.7" stroke="#C61F40" stroke-width="1.9"/>
<line x1="172.4" y1="1343.4" x2="150.5" y2="1370.1" stroke="#E6C146" stroke-width="1.9"/>
<line x1="183" y1="1379.6" x2="198.2" y2="1387.3" stroke="#E6C146" stroke-width="1.9"/>
<line x1="225.8" y1="1319.6" x2="202" y2="1349.1" stroke="#D98BD1" stroke-width="1.9"/>
<line x1="225.8" y1="1354.8" x2="202" y2="1399.6" stroke="#C61F40" stroke-width="1.9"/>
<line x1="224.5" y1="1387.3" x2="201" y2="1442.6" stroke="#288C5E" stroke-width="1.9"/>
<line x1="225.8" y1="1424.4" x2="202" y2="1454" stroke="#22308C" stroke-width="1.9"/>
<line x1="265.3" y1="1387.7" x2="253.8" y2="1430.6" stroke="#C61F40" stroke-width="1.9"/>
<line x1="260.5" y1="1421" x2="253.8" y2="1445.8" stroke="#D98BD1" stroke-width="1.9"/>
<line x1="302.5" y1="1374.3" x2="252.9" y2="1458.2" stroke="#22308C" stroke-width="1.9"/>
<line x1="299.6" y1="1407.7" x2="253.8" y2="1460.1" stroke="#288C5E" stroke-width="1.9"/>
<line x1="295.8" y1="1441.1" x2="304.4" y2="1469.7" stroke="#288C5E" stroke-width="1.9"/>
<line x1="334.5" y1="1429.6" x2="306.3" y2="1476.3" stroke="#D98BD1" stroke-width="1.9"/>
<line x1="357.4" y1="1443.9" x2="307.2" y2="1478.3" stroke="#22308C" stroke-width="1.9"/>
<line x1="359.7" y1="1476.3" x2="306.3" y2="1482" stroke="#E6C146" stroke-width="1.9"/>
<text transform="translate(114.70 1128.49) rotate(-5.5) scale(1 1.04)" x="-7.86" y="8.94" font-size="26" fill="#22308C" stroke="#22308C" stroke-width="0.2">L</text>
<text transform="translate(143.90 1128.49) rotate(-5.5) scale(1 1.04)" x="-7.86" y="8.94" font-size="26" fill="#E6C146" stroke="#E6C146" stroke-width="0.2">L</text>
<text transform="translate(99.80 1161.89) rotate(-5.5) scale(1 1.04)" x="-7.86" y="8.94" font-size="26" fill="#288C5E" stroke="#288C5E" stroke-width="0.2">L</text>
<text transform="translate(129.50 1171.99) rotate(-5.5) scale(1 1.04)" x="-7.86" y="8.94" font-size="26" fill="#C61F40" stroke="#C61F40" stroke-width="0.2">L</text>
<text transform="translate(122.70 1207.59) rotate(-5.5) scale(1 1.04)" x="-7.86" y="8.94" font-size="26" fill="#D98BD1" stroke="#D98BD1" stroke-width="0.2">L</text>
<text transform="translate(173.38 1179.80) rotate(-5.5) scale(1 1.04)" x="-15.09" y="8.94" font-size="26" fill="#288C5E" stroke="#288C5E" stroke-width="0.2">Ag</text>
<text transform="translate(158.18 1241.20) rotate(-5.5) scale(1 1.04)" x="-15.09" y="8.94" font-size="26" fill="#D98BD1" stroke="#D98BD1" stroke-width="0.2">Ag</text>
<text transform="translate(205.58 1241.20) rotate(-5.5) scale(1 1.04)" x="-15.09" y="8.94" font-size="26" fill="#22308C" stroke="#22308C" stroke-width="0.2">Ag</text>
<text transform="translate(174.28 1275.90) rotate(-5.5) scale(1 1.04)" x="-15.09" y="8.94" font-size="26" fill="#C61F40" stroke="#C61F40" stroke-width="0.2">Ag</text>
<text transform="translate(173.78 1331.50) rotate(-5.5) scale(1 1.04)" x="-15.09" y="8.94" font-size="26" fill="#E6C146" stroke="#E6C146" stroke-width="0.2">Ag</text>
<text transform="translate(175.06 1368.84) rotate(-5.5) scale(1 1.04)" x="-15.66" y="8.94" font-size="26" fill="#E6C146" stroke="#E6C146" stroke-width="0.2">Fe</text>
<text transform="translate(226.55 1306.11) rotate(-5.5) scale(1 1.04)" x="-10.83" y="8.94" font-size="26" fill="#D98BD1" stroke="#D98BD1" stroke-width="0.2">M</text>
<text transform="translate(226.56 1341.14) rotate(-5.5) scale(1 1.04)" x="-15.66" y="8.94" font-size="26" fill="#C61F40" stroke="#C61F40" stroke-width="0.2">Fe</text>
<text transform="translate(224.26 1374.65) rotate(-5.5) scale(1 1.04)" x="-13.07" y="8.94" font-size="26" fill="#288C5E" stroke="#288C5E" stroke-width="0.2">Ju</text>
<text transform="translate(227.58 1411.38) rotate(-5.5) scale(1 1.04)" x="-9.05" y="8.94" font-size="26" fill="#22308C" stroke="#22308C" stroke-width="0.2">B</text>
<text transform="translate(264.05 1374.31) rotate(-5.5) scale(1 1.04)" x="-10.83" y="8.94" font-size="26" fill="#C61F40" stroke="#C61F40" stroke-width="0.2">M</text>
<text transform="translate(261.28 1407.98) rotate(-5.5) scale(1 1.04)" x="-9.05" y="8.94" font-size="26" fill="#D98BD1" stroke="#D98BD1" stroke-width="0.2">B</text>
<text transform="translate(302.17 1361.02) rotate(-5.5) scale(1 1.04)" x="-11.76" y="8.94" font-size="26" fill="#22308C" stroke="#22308C" stroke-width="0.2">Pl</text>
<text transform="translate(299.48 1394.68) rotate(-5.5) scale(1 1.04)" x="-9.05" y="8.94" font-size="26" fill="#288C5E" stroke="#288C5E" stroke-width="0.2">B</text>
<text transform="translate(295.55 1427.71) rotate(-5.5) scale(1 1.04)" x="-10.83" y="8.94" font-size="26" fill="#288C5E" stroke="#288C5E" stroke-width="0.2">M</text>
<text transform="translate(335.47 1416.32) rotate(-5.5) scale(1 1.04)" x="-11.76" y="8.94" font-size="26" fill="#D98BD1" stroke="#D98BD1" stroke-width="0.2">El</text>
<text transform="translate(377.56 1440.74) rotate(-5.5) scale(1 1.04)" x="-15.66" y="8.94" font-size="26" fill="#22308C" stroke="#22308C" stroke-width="0.2">Fe</text>
<text transform="translate(331.26 1461.75) rotate(-5.5) scale(1 1.04)" x="-13.07" y="8.94" font-size="26" fill="#C61F40" stroke="#C61F40" stroke-width="0.2">Ju</text>
<text transform="translate(271.78 1462.38) rotate(-5.5) scale(1 1.04)" x="-9.05" y="8.94" font-size="26" fill="#E6C146" stroke="#E6C146" stroke-width="0.2">B</text>
<text transform="translate(371.75 1474.41) rotate(-5.5) scale(1 1.04)" x="-10.83" y="8.94" font-size="26" fill="#E6C146" stroke="#E6C146" stroke-width="0.2">M</text>
<line x1="63" y1="1111.5" x2="63" y2="1544.5" stroke="#000" stroke-width="1.9"/>
<line x1="63" y1="1544.5" x2="807" y2="1544.5" stroke="#000" stroke-width="1.9"/>
<line x1="57.5" y1="1525" x2="63" y2="1525" stroke="#333" stroke-width="2"/>
<text transform="translate(53.00 1533.60) scale(1 1.09)" font-size="22.3" fill="#383838" text-anchor="end">0</text>
<line x1="57.5" y1="1436.9" x2="63" y2="1436.9" stroke="#333" stroke-width="2"/>
<text transform="translate(53.00 1445.50) scale(1 1.09)" font-size="22.3" fill="#383838" text-anchor="end">10</text>
<line x1="57.5" y1="1348.9" x2="63" y2="1348.9" stroke="#333" stroke-width="2"/>
<text transform="translate(53.00 1357.50) scale(1 1.09)" font-size="22.3" fill="#383838" text-anchor="end">20</text>
<line x1="57.5" y1="1260.8" x2="63" y2="1260.8" stroke="#333" stroke-width="2"/>
<text transform="translate(53.00 1269.40) scale(1 1.09)" font-size="22.3" fill="#383838" text-anchor="end">30</text>
<line x1="57.5" y1="1172.75" x2="63" y2="1172.75" stroke="#333" stroke-width="2"/>
<text transform="translate(53.00 1181.35) scale(1 1.09)" font-size="22.3" fill="#383838" text-anchor="end">40</text>
<line x1="304.8" y1="1544.5" x2="304.8" y2="1550.0" stroke="#333" stroke-width="2"/>
<text transform="translate(304.80 1570.80) scale(1 1.09)" font-size="22.3" fill="#383838" text-anchor="middle">5</text>
<line x1="564.9" y1="1544.5" x2="564.9" y2="1550.0" stroke="#333" stroke-width="2"/>
<text transform="translate(564.90 1570.80) scale(1 1.09)" font-size="22.3" fill="#383838" text-anchor="middle">10</text>
<text transform="translate(435.00 1595.50) scale(1 1.043)" font-size="21" fill="#000" text-anchor="middle">Rank</text>
<circle cx="451.3" cy="1043.8" r="0.7" fill="#777"/>
<text transform="translate(829.20 173.00) scale(1 1.043)" font-size="24.8" fill="#000">Treatment</text>
<line x1="832.2" y1="204.6" x2="857" y2="204.6" stroke="#D98BD1" stroke-width="2" stroke-dasharray="8.3 8.3"/>
<circle cx="845.6" cy="204.6" r="4.6" fill="#D98BD1" fill-opacity="0.6"/>
<text transform="translate(871.10 210.80) scale(1 1.043)" font-size="17" fill="#000">IW</text>
<line x1="832.2" y1="237.9" x2="857" y2="237.9" stroke="#C61F40" stroke-width="2" stroke-dasharray="8.3 8.3"/>
<path d="M845.6 230.7L851.8 241.5L839.4 241.5Z" fill="#C61F40" fill-opacity="0.6"/>
<text transform="translate(871.10 244.10) scale(1 1.043)" font-size="17" fill="#000">DW</text>
<line x1="832.2" y1="271.1" x2="857" y2="271.1" stroke="#E6C146" stroke-width="2" stroke-dasharray="8.3 8.3"/>
<rect x="840.9" y="266.4" width="9.4" height="9.4" fill="#E6C146" fill-opacity="0.6"/>
<text transform="translate(871.10 277.30) scale(1 1.043)" font-size="17" fill="#000">DS</text>
<line x1="832.2" y1="304.3" x2="857" y2="304.3" stroke="#288C5E" stroke-width="2" stroke-dasharray="8.3 8.3"/>
<path d="M838.5 304.3H852.7M845.6 297.2V311.4" stroke="#288C5E" stroke-opacity="0.72" stroke-width="1.5" fill="none"/>
<text transform="translate(871.10 310.50) scale(1 1.043)" font-size="17" fill="#000">IS</text>
<line x1="832.2" y1="337.5" x2="857" y2="337.5" stroke="#22308C" stroke-width="2" stroke-dasharray="8.3 8.3"/>
<g stroke="#22308C" stroke-opacity="0.75" stroke-width="1.3" fill="none"><path d="M840.8 332.7h9.6v9.6h-9.6Z"/><path d="M840.8 332.7L850.4 342.3M850.4 332.7L840.8 342.3"/></g>
<text transform="translate(871.10 343.70) scale(1 1.043)" font-size="17" fill="#000">C</text>
</svg></body></html>
